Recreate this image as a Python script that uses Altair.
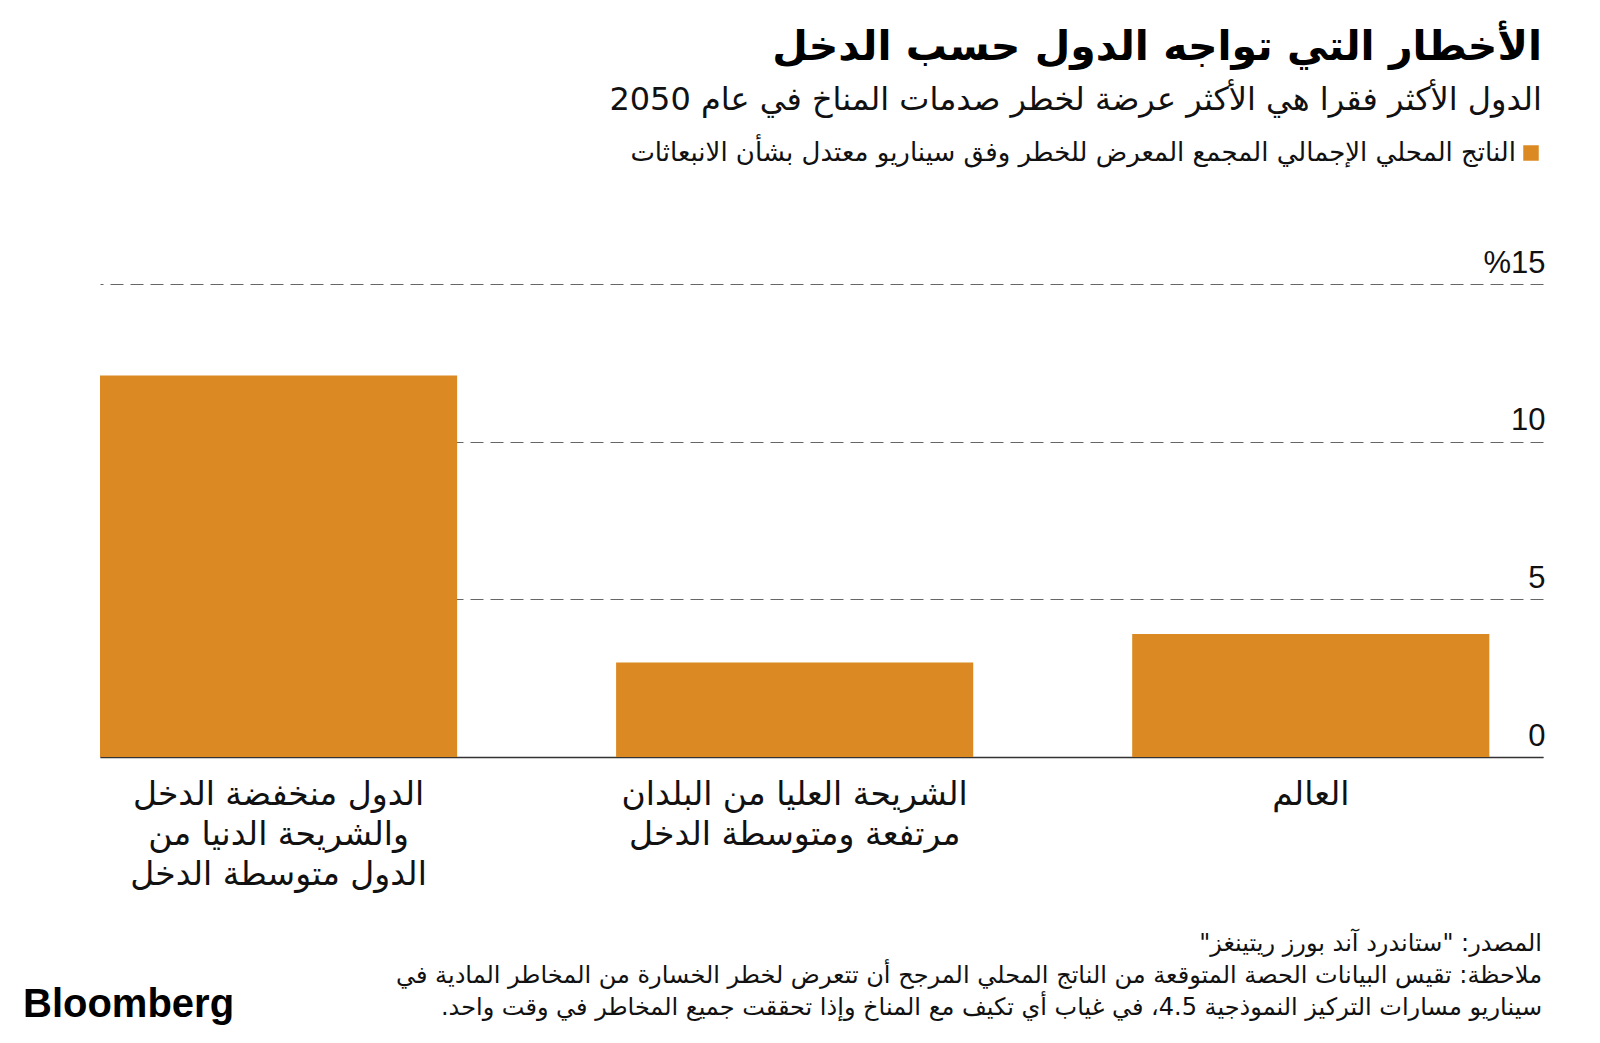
import altair as alt
import pandas as pd

# ---- data ----
categories = [
    "الدول منخفضة الدخل|والشريحة الدنيا من|الدول متوسطة الدخل",
    "الشريحة العليا من البلدان|مرتفعة ومتوسطة الدخل",
    "العالم",
]
values = [12.1, 3.0, 3.9]
y_ticks = [0, 5, 10, 15]

title_text = "الأخطار التي تواجه الدول حسب الدخل"
subtitle_text = "الدول الأكثر فقرا هي الأكثر عرضة لخطر صدمات المناخ في عام 2050"
legend_text = "الناتج المحلي الإجمالي المجمع المعرض للخطر وفق سيناريو معتدل بشأن الانبعاثات"
footer_lines = [
    'المصدر: "ستاندرد آند بورز ريتينغز"',
    "ملاحظة: تقيس البيانات الحصة المتوقعة من الناتج المحلي المرجح أن تتعرض لخطر الخسارة من المخاطر المادية في",
    "سيناريو مسارات التركيز النموذجية 4.5، في غياب أي تكيف مع المناخ وإذا تحققت جميع المخاطر في وقت واحد.",
]
brand = "Bloomberg"

RLE, PDF = "\u202b", "\u202c"


def rtl(s):
    return RLE + s + PDF


BAR = "#DB8A23"
AR_FONT = "DejaVu Sans"
NUM_FONT = "Liberation Sans, DejaVu Sans"

W, H = 1443, 473

df = pd.DataFrame({"cat": categories, "val": values})

bars = alt.Chart(df).mark_bar(color=BAR).encode(
    x=alt.X(
        "cat:N",
        sort=categories,
        scale=alt.Scale(paddingInner=0.308, paddingOuter=0.052, align=0),
        axis=alt.Axis(
            title=None,
            labelExpr="split(datum.label, '|')",
            labelFont=AR_FONT,
            labelFontSize=33,
            labelColor="#111",
            labelLineHeight=40,
            labelBaseline="alphabetic",
            labelPadding=47,
            labelAngle=0,
            labelLimit=600,
            ticks=False,
            tickSize=0,
            domain=True,
            domainColor="#333",
            domainWidth=1.5,
            grid=False,
        ),
    ),
    y=alt.Y(
        "val:Q",
        scale=alt.Scale(domain=[0, 15], nice=False),
        axis=alt.Axis(
            title=None,
            orient="right",
            values=y_ticks,
            labelExpr="datum.value == 15 ? '%15' : datum.label",
            labelFont=NUM_FONT,
            labelFontSize=31,
            labelColor="#111",
            labelAlign="right",
            labelBaseline="alphabetic",
            labelOffset=-12,
            labelPadding=2,
            ticks=False,
            tickSize=0,
            domain=False,
            grid=True,
            gridDash=[13, 7],
            gridColor="#666666",
            gridWidth=1,
            labelOverlap=False,
            labelFlush=False,
        ),
    ),
)

one = pd.DataFrame({"k": [0]})

title = alt.Chart(one).mark_text(
    text=rtl(title_text), font=AR_FONT, fontSize=41, fontWeight="bold",
    align="right", baseline="alphabetic", color="#000",
).encode(x=alt.value(1442), y=alt.value(-224))

subtitle = alt.Chart(one).mark_text(
    text=rtl(subtitle_text), font=AR_FONT, fontSize=32,
    align="right", baseline="alphabetic", color="#111",
).encode(x=alt.value(1442), y=alt.value(-174))

legend_sq = alt.Chart(one).mark_point(
    shape="square", filled=True, size=240, color=BAR, opacity=1,
).encode(x=alt.value(1431), y=alt.value(-131))

legend_tx = alt.Chart(one).mark_text(
    text=rtl(legend_text), font=AR_FONT, fontSize=26,
    align="right", baseline="alphabetic", color="#111",
).encode(x=alt.value(1416), y=alt.value(-123))

footer = alt.Chart(one).mark_text(
    text=[rtl(s) for s in footer_lines], font=AR_FONT, fontSize=24,
    lineHeight=32, align="right", baseline="alphabetic", color="#111",
).encode(x=alt.value(1442), y=alt.value(667))

logo = alt.Chart(one).mark_text(
    text=brand, font="Liberation Sans", fontSize=40, fontWeight="bold",
    align="left", baseline="alphabetic", color="#000",
).encode(x=alt.value(-77), y=alt.value(733))

chart = alt.layer(bars, title, subtitle, legend_sq, legend_tx, footer, logo).properties(
    width=W,
    height=H,
    background="white",
    autosize=alt.AutoSizeParams(type="none"),
    padding={"left": 92, "top": 276, "right": 40, "bottom": 270},
).configure_view(stroke=None)

chart.save("out.html", embed_options={"renderer": "svg", "actions": False})
